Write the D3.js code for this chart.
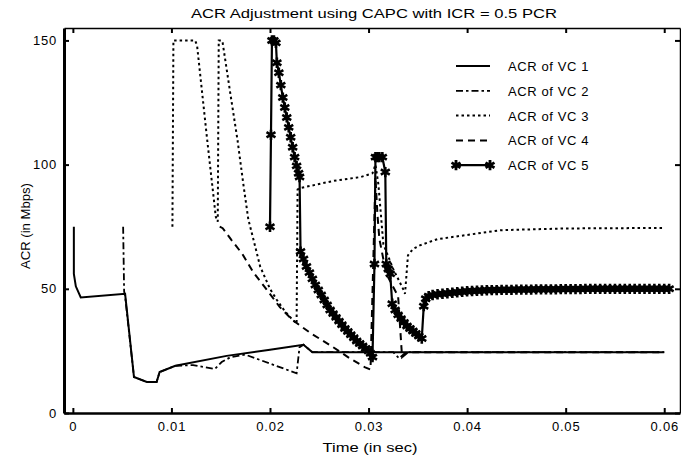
<!DOCTYPE html>
<html>
<head>
<meta charset="utf-8">
<script src="https://cdn.jsdelivr.net/npm/d3@7"></script>
<style>
  body { margin: 0; background: #fff; }
  text { font-family: "Liberation Sans", Arial, sans-serif; fill: #000; }
</style>
</head>
<body>
<script>
// data: [time in sec, ACR in Mbps]
var vc1 = [[0.0001,75],[0.0001,56],[0.0003,51],[0.0008,46.5],[0.0053,48],[0.0062,14.5],[0.0075,12.5],
  [0.0085,12.5],[0.0088,16.5],[0.0104,19],[0.0156,23],[0.0200,25.5],[0.0234,27.5],[0.0243,24.5],[0.0600,24.5]];

var vc2 = [[0.0051,75],[0.0052,49],[0.0053,47],[0.0062,14.5],[0.0075,12.5],[0.0085,12.5],[0.0088,16.5],
  [0.0104,19],[0.0122,19.3],[0.0144,17.7],[0.0151,20.5],[0.0160,22.5],[0.0175,23.5],[0.0227,16],
  [0.0230,26.5],[0.0234,27.5],[0.0243,24.5],[0.0325,24.5],[0.0331,22],[0.0338,24.5],[0.0600,24.5]];

var vc3 = [[0.0101,75],[0.0102,150],[0.0124,150],[0.0126,148],[0.0136,111],[0.0145,79],[0.0147,77],
  [0.0148,150],[0.0151,150],[0.0152,149],[0.0160,128],[0.0167,110],[0.0173,92],[0.0178,78],[0.0185,67],
  [0.0190,59],[0.0200,50],[0.0207,45.5],[0.0215,41],[0.0223,37.5],[0.0227,36],[0.0228,90],[0.0230,90.5],
  [0.0265,93.5],[0.0292,95],[0.0304,96.5],[0.0307,100],[0.0310,92],[0.0315,68],[0.0325,58],[0.0335,50],
  [0.0337,48],[0.0340,63.5],[0.0345,66],[0.0352,67.5],[0.0370,70],[0.0434,73.6],[0.0500,74.3],[0.0598,74.5]];

var vc4 = [[0.0149,75],[0.0152,74.4],[0.0161,69.6],[0.0172,64],[0.0183,56.7],[0.0197,49.5],[0.0210,42.6],
  [0.0223,37.4],[0.0241,32.2],[0.0261,27.3],[0.0281,22],[0.0296,18.5],[0.0302,17.5],[0.0307,95],
  [0.0309,80],[0.0311,70],[0.0318,56],[0.0330,47],[0.0334,22.5],[0.0340,24.5],[0.0600,24.5]];

var vc5 = [[0.0200,75],[0.0201,112],[0.0202,150],[0.0204,150],[0.0206,149],[0.0207,141],[0.0209,137],
  [0.0211,132],[0.0213,127],[0.0215,123],[0.0217,119],[0.0219,115],[0.0221,111],[0.0223,107],[0.0225,103],
  [0.0227,99.5],[0.0229,96.5],[0.0230,95],[0.0231,65],[0.0234,62],[0.0237,59],[0.0240,56.5],[0.0243,54],
  [0.0246,51.5],[0.0249,49.5],[0.0252,47.5],[0.0255,45.5],[0.0258,43.5],[0.0261,41.5],[0.0264,40],
  [0.0267,38.5],[0.0270,37],[0.0273,35.5],[0.0276,34],[0.0279,32.8],[0.0282,31.5],[0.0285,30.3],
  [0.0288,29],[0.0291,28],[0.0294,27],[0.0297,26],[0.0300,25],[0.0302,24],[0.0304,22.5],[0.0306,60],
  [0.0307,103],[0.0309,103],[0.0311,103],[0.0314,103],[0.0317,97],[0.0318,60],[0.0320,58],[0.0322,56],
  [0.0324,44],[0.0327,41.5],[0.0330,39.5],[0.0333,38],[0.0336,36.5],[0.0339,35],[0.0342,34],[0.0345,33],
  [0.0348,32],[0.0351,31],[0.0354,30],[0.0356,43],[0.0358,46],[0.0361,47],[0.0365,47.5],[0.0370,47.8],
  [0.0375,48],[0.0380,48.2],[0.0385,48.4],[0.0390,48.6],[0.0395,48.8],[0.0400,49],[0.0405,49.1],
  [0.0410,49.2],[0.0415,49.3],[0.0420,49.4],[0.0425,49.5],[0.0430,49.5],[0.0435,49.6],[0.0440,49.6],
  [0.0445,49.6],[0.0450,49.7],[0.0455,49.7],[0.0460,49.7],[0.0465,49.7],[0.0470,49.8],[0.0475,49.8],
  [0.0480,49.8],[0.0485,49.8],[0.0490,49.8],[0.0495,49.9],[0.0500,49.9],[0.0505,49.9],[0.0510,49.9],
  [0.0515,49.9],[0.0520,50],[0.0525,50],[0.0530,50],[0.0535,50],[0.0540,50],[0.0545,50],[0.0550,50],
  [0.0555,50],[0.0560,50],[0.0565,50],[0.0570,50],[0.0575,50],[0.0580,50],[0.0585,50],[0.0590,50],
  [0.0595,50],[0.0600,50],[0.0605,50]];

var xTicks = [0, 0.01, 0.02, 0.03, 0.04, 0.05, 0.06];
var xTickLabels = ["0", "0.01", "0.02", "0.03", "0.04", "0.05", "0.06"];
var yTicks = [0, 50, 100, 150];
var legendLabels = ["ACR of VC 1", "ACR of VC 2", "ACR of VC 3", "ACR of VC 4", "ACR of VC 5"];

var w = 681, h = 460;
var plotLeft = 64, plotRight = 680, plotTop = 28, plotBottom = 413;

var svg = d3.select("body").append("svg")
  .attr("width", w)
  .attr("height", h);

var xScale = d3.scaleLinear().domain([-0.0009, 0.0616]).range([plotLeft, plotRight]);
var yScale = d3.scaleLinear().domain([0, 155]).range([plotBottom, plotTop]);

// series styles
var series = [
  {data: vc1, dash: null, width: 2},
  {data: vc2, dash: "7,3,2.5,3", width: 1.8},
  {data: vc3, dash: "2.5,3", width: 2},
  {data: vc4, dash: "7,5", width: 2},
  {data: vc5, dash: null, width: 2.2}
];

var line = d3.line()
  .x(function(d) { return xScale(d[0]); })
  .y(function(d) { return yScale(d[1]); });

svg.selectAll("path.series")
  .data(series)
  .enter()
  .append("path")
  .attr("class", "series")
  .attr("d", function(d) { return line(d.data); })
  .attr("fill", "none")
  .attr("stroke", "#000")
  .attr("stroke-width", function(d) { return d.width; })
  .attr("stroke-dasharray", function(d) { return d.dash; });

// markers of VC 5
var star = d3.symbol().type(d3.symbolAsterisk).size(75);
svg.selectAll("path.mark")
  .data(vc5)
  .enter()
  .append("path")
  .attr("class", "mark")
  .attr("d", star)
  .attr("transform", function(d) {
    return "translate(" + xScale(d[0]) + "," + yScale(d[1]) + ")";
  })
  .attr("fill", "none")
  .attr("stroke", "#000")
  .attr("stroke-width", 2.6);

// axes, ticks pointing inwards
var xAxis = d3.axisBottom(xScale)
  .tickValues(xTicks)
  .tickFormat(function(d, i) { return xTickLabels[i]; })
  .tickSizeInner(-5).tickSizeOuter(0).tickPadding(9);
var xAxisTop = d3.axisTop(xScale)
  .tickValues(xTicks).tickFormat("")
  .tickSizeInner(-5).tickSizeOuter(0);
var yAxis = d3.axisLeft(yScale)
  .tickValues(yTicks)
  .tickSizeInner(-5).tickSizeOuter(0).tickPadding(7);
var yAxisRight = d3.axisRight(yScale)
  .tickValues(yTicks).tickFormat("")
  .tickSizeInner(-5).tickSizeOuter(0);

var gx = svg.append("g").attr("transform", "translate(0," + plotBottom + ")").call(xAxis);
var gxt = svg.append("g").attr("transform", "translate(0," + plotTop + ")").call(xAxisTop);
var gy = svg.append("g").attr("transform", "translate(" + plotLeft + ",0)").call(yAxis);
var gyr = svg.append("g").attr("transform", "translate(" + plotRight + ",0)").call(yAxisRight);

gx.select(".domain").attr("stroke-width", 2.5);
gy.select(".domain").attr("stroke-width", 3);
gxt.select(".domain").attr("stroke-width", 1.5);
gyr.select(".domain").attr("stroke-width", 1.5);
svg.selectAll(".tick line").attr("stroke-width", 2);
svg.selectAll(".tick text")
  .attr("font-family", "Liberation Sans, Arial, sans-serif")
  .attr("font-size", "13px")
  .style("letter-spacing", "0.8px");

// title and axis labels
svg.append("text")
  .attr("x", 374).attr("y", 18)
  .attr("text-anchor", "middle")
  .attr("font-size", "13px")
  .attr("textLength", 366).attr("lengthAdjust", "spacingAndGlyphs")
  .text("ACR Adjustment using CAPC with ICR = 0.5 PCR");

svg.append("text")
  .attr("x", 370).attr("y", 452)
  .attr("text-anchor", "middle")
  .attr("font-size", "13px")
  .attr("textLength", 95).attr("lengthAdjust", "spacingAndGlyphs")
  .text("Time (in sec)");

svg.append("text")
  .attr("transform", "translate(30,226) rotate(-90)")
  .attr("text-anchor", "middle")
  .attr("font-size", "13px")
  .attr("textLength", 86).attr("lengthAdjust", "spacingAndGlyphs")
  .text("ACR (in Mbps)");

// legend
var legend = svg.selectAll("g.legend")
  .data(series)
  .enter()
  .append("g")
  .attr("class", "legend")
  .attr("transform", function(d, i) { return "translate(456," + (66 + i * 24.8) + ")"; });

legend.append("line")
  .attr("x1", 0).attr("x2", 34).attr("y1", 0).attr("y2", 0)
  .attr("stroke", "#000")
  .attr("stroke-width", function(d) { return d.width; })
  .attr("stroke-dasharray", function(d) { return d.dash; });

legend.filter(function(d, i) { return i === 4; })
  .selectAll("path")
  .data([0, 34])
  .enter()
  .append("path")
  .attr("d", star)
  .attr("transform", function(d) { return "translate(" + d + ",0)"; })
  .attr("fill", "none")
  .attr("stroke", "#000")
  .attr("stroke-width", 2.8);

legend.append("text")
  .attr("x", 52).attr("y", 5)
  .attr("font-size", "13px")
  .style("letter-spacing", "0.6px")
  .text(function(d, i) { return legendLabels[i]; });
</script>
</body>
</html>
